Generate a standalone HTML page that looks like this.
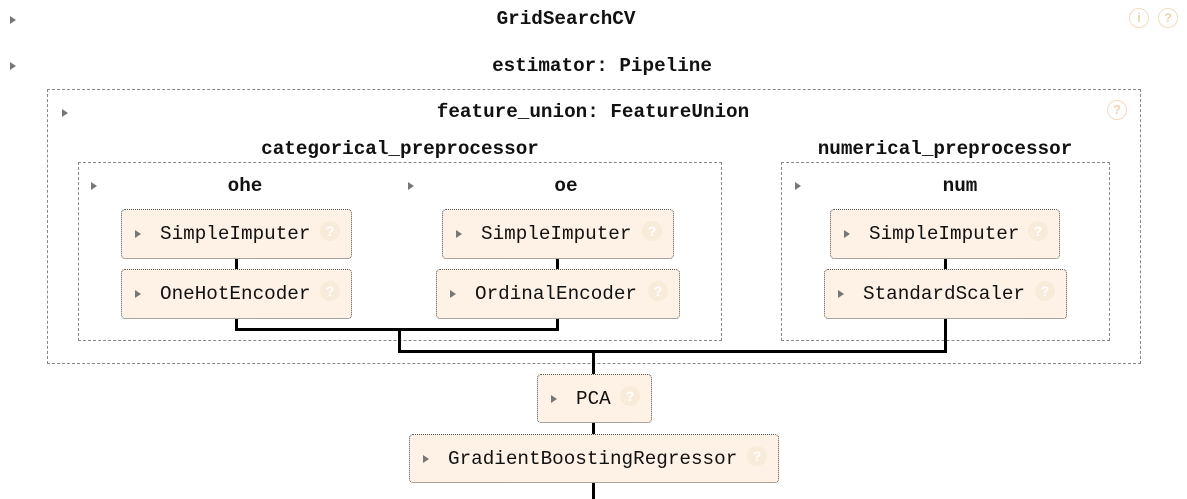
<!DOCTYPE html>
<html><head><meta charset="utf-8"><style>
body{margin:0;width:1187px;height:499px;background:#fff;position:relative;overflow:hidden;font-family:"Liberation Mono",monospace;}
.tri{position:absolute;width:0;height:0;border-top:4px solid transparent;border-bottom:4px solid transparent;border-left:6px solid #777;}
.h{position:absolute;font-weight:bold;font-size:19.3px;color:#111;transform:translate(-50%,-50%);white-space:nowrap;}
.dash{position:absolute;border:1px dashed #888;box-sizing:border-box;}
.box{position:absolute;background:#fdf2e5;border:1px dotted #555;border-radius:4px;box-sizing:border-box;}
.box .t{position:absolute;left:38px;top:50%;transform:translateY(-50%);font-size:19.3px;color:#111;white-space:nowrap;}
.box .tri{left:13px;top:50%;margin-top:-4px;}
.q{position:absolute;width:20px;height:20px;border-radius:50%;background:#f9ebda;color:#fff;font-family:"Liberation Sans",sans-serif;font-weight:bold;font-size:14px;line-height:20px;text-align:center;}
.box .q{right:11px;top:50%;margin-top:-13px;}
.oq{position:absolute;width:18px;height:18px;border-radius:50%;border:1.5px solid #f2dcc0;color:#f0d4b0;font-family:"Liberation Sans",sans-serif;font-size:13px;line-height:18px;text-align:center;font-weight:bold;}
.l{position:absolute;background:#000;}
</style></head><body>
<div class="tri" style="left:10px;top:16px"></div>
<div class="h" style="left:566px;top:19px">GridSearchCV</div>
<div class="oq" style="left:1129px;top:8px">i</div>
<div class="oq" style="left:1158px;top:8px">?</div>
<div class="tri" style="left:10px;top:62px"></div>
<div class="h" style="left:602px;top:66px">estimator: Pipeline</div>

<div class="dash" style="left:47px;top:89px;width:1094px;height:275px"></div>
<div class="tri" style="left:62px;top:109px"></div>
<div class="h" style="left:593px;top:112px">feature_union: FeatureUnion</div>
<div class="oq" style="left:1107px;top:100px">?</div>

<div class="h" style="left:400px;top:149px">categorical_preprocessor</div>
<div class="dash" style="left:78px;top:162px;width:644px;height:179px"></div>
<div class="h" style="left:945px;top:149px">numerical_preprocessor</div>
<div class="dash" style="left:781px;top:162px;width:329px;height:179px"></div>

<div class="tri" style="left:91px;top:182px"></div>
<div class="h" style="left:245px;top:186px">ohe</div>
<div class="tri" style="left:408px;top:182px"></div>
<div class="h" style="left:566px;top:186px">oe</div>
<div class="tri" style="left:795px;top:182px"></div>
<div class="h" style="left:960px;top:186px">num</div>

<div class="l" style="left:235px;top:258px;width:3px;height:11px"></div>
<div class="l" style="left:556px;top:258px;width:3px;height:11px"></div>
<div class="l" style="left:944px;top:258px;width:3px;height:11px"></div>
<div class="l" style="left:235px;top:318px;width:3px;height:12px"></div>
<div class="l" style="left:556px;top:318px;width:3px;height:12px"></div>
<div class="l" style="left:235px;top:328px;width:324px;height:3px"></div>
<div class="l" style="left:398px;top:328px;width:3px;height:25px"></div>
<div class="l" style="left:944px;top:318px;width:3px;height:35px"></div>
<div class="l" style="left:398px;top:350px;width:549px;height:3px"></div>
<div class="l" style="left:592px;top:350px;width:3px;height:25px"></div>
<div class="l" style="left:592px;top:422px;width:3px;height:12px"></div>
<div class="l" style="left:592px;top:482px;width:3px;height:17px"></div>

<div class="box" style="left:121px;top:209px;width:231px;height:50px"><div class="tri"></div><div class="t">SimpleImputer</div><div class="q">?</div></div>
<div class="box" style="left:121px;top:269px;width:231px;height:50px"><div class="tri"></div><div class="t">OneHotEncoder</div><div class="q">?</div></div>
<div class="box" style="left:442px;top:209px;width:232px;height:50px"><div class="tri"></div><div class="t">SimpleImputer</div><div class="q">?</div></div>
<div class="box" style="left:436px;top:269px;width:244px;height:50px"><div class="tri"></div><div class="t">OrdinalEncoder</div><div class="q">?</div></div>
<div class="box" style="left:830px;top:209px;width:230px;height:50px"><div class="tri"></div><div class="t">SimpleImputer</div><div class="q">?</div></div>
<div class="box" style="left:824px;top:269px;width:243px;height:50px"><div class="tri"></div><div class="t">StandardScaler</div><div class="q">?</div></div>
<div class="box" style="left:537px;top:374px;width:115px;height:49px"><div class="tri"></div><div class="t">PCA</div><div class="q">?</div></div>
<div class="box" style="left:409px;top:434px;width:370px;height:49px"><div class="tri"></div><div class="t">GradientBoostingRegressor</div><div class="q">?</div></div>
</body></html>
